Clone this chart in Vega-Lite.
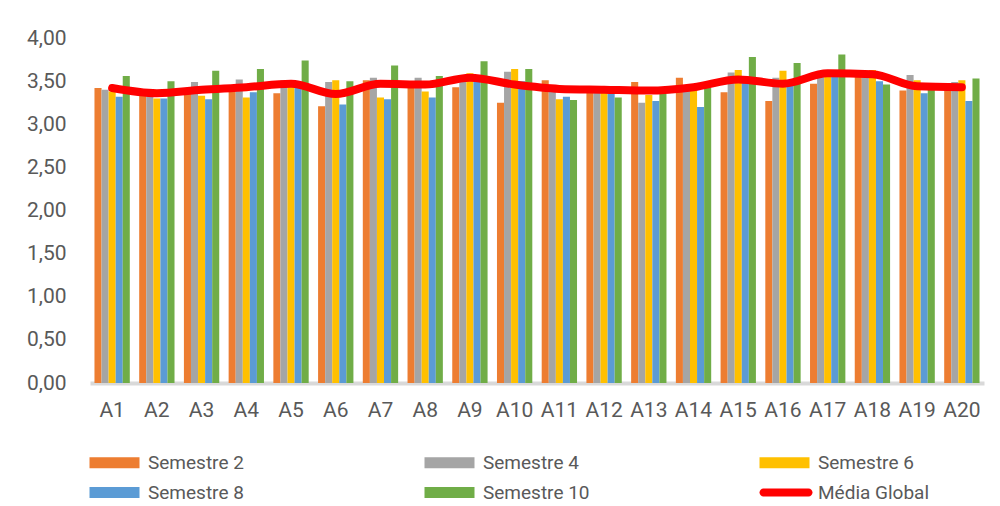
{
  "$schema": "https://vega.github.io/schema/vega-lite/v6.json",
  "width": 894,
  "height": 345,
  "autosize": {"type": "none"},
  "padding": {"left": 90, "top": 38, "right": 16, "bottom": 123},
  "background": "white",
  "config": {
    "locale": {"number": {"decimal": ",", "thousands": ".", "grouping": [3], "currency": ["", " €"]}},
    "view": {"stroke": null},
    "font": "Roboto"
  },
  "datasets": {
    "bars": [
      {"cat":"A1","serie":"Semestre 2","value":3.42},{"cat":"A1","serie":"Semestre 4","value":3.40},{"cat":"A1","serie":"Semestre 6","value":3.38},{"cat":"A1","serie":"Semestre 8","value":3.32},{"cat":"A1","serie":"Semestre 10","value":3.56},
      {"cat":"A2","serie":"Semestre 2","value":3.35},{"cat":"A2","serie":"Semestre 4","value":3.33},{"cat":"A2","serie":"Semestre 6","value":3.30},{"cat":"A2","serie":"Semestre 8","value":3.30},{"cat":"A2","serie":"Semestre 10","value":3.50},
      {"cat":"A3","serie":"Semestre 2","value":3.40},{"cat":"A3","serie":"Semestre 4","value":3.49},{"cat":"A3","serie":"Semestre 6","value":3.33},{"cat":"A3","serie":"Semestre 8","value":3.29},{"cat":"A3","serie":"Semestre 10","value":3.62},
      {"cat":"A4","serie":"Semestre 2","value":3.40},{"cat":"A4","serie":"Semestre 4","value":3.52},{"cat":"A4","serie":"Semestre 6","value":3.31},{"cat":"A4","serie":"Semestre 8","value":3.37},{"cat":"A4","serie":"Semestre 10","value":3.64},
      {"cat":"A5","serie":"Semestre 2","value":3.36},{"cat":"A5","serie":"Semestre 4","value":3.51},{"cat":"A5","serie":"Semestre 6","value":3.45},{"cat":"A5","serie":"Semestre 8","value":3.44},{"cat":"A5","serie":"Semestre 10","value":3.74},
      {"cat":"A6","serie":"Semestre 2","value":3.21},{"cat":"A6","serie":"Semestre 4","value":3.49},{"cat":"A6","serie":"Semestre 6","value":3.51},{"cat":"A6","serie":"Semestre 8","value":3.23},{"cat":"A6","serie":"Semestre 10","value":3.50},
      {"cat":"A7","serie":"Semestre 2","value":3.51},{"cat":"A7","serie":"Semestre 4","value":3.54},{"cat":"A7","serie":"Semestre 6","value":3.31},{"cat":"A7","serie":"Semestre 8","value":3.29},{"cat":"A7","serie":"Semestre 10","value":3.68},
      {"cat":"A8","serie":"Semestre 2","value":3.46},{"cat":"A8","serie":"Semestre 4","value":3.54},{"cat":"A8","serie":"Semestre 6","value":3.38},{"cat":"A8","serie":"Semestre 8","value":3.31},{"cat":"A8","serie":"Semestre 10","value":3.56},
      {"cat":"A9","serie":"Semestre 2","value":3.43},{"cat":"A9","serie":"Semestre 4","value":3.50},{"cat":"A9","serie":"Semestre 6","value":3.59},{"cat":"A9","serie":"Semestre 8","value":3.52},{"cat":"A9","serie":"Semestre 10","value":3.73},
      {"cat":"A10","serie":"Semestre 2","value":3.25},{"cat":"A10","serie":"Semestre 4","value":3.61},{"cat":"A10","serie":"Semestre 6","value":3.64},{"cat":"A10","serie":"Semestre 8","value":3.50},{"cat":"A10","serie":"Semestre 10","value":3.64},
      {"cat":"A11","serie":"Semestre 2","value":3.51},{"cat":"A11","serie":"Semestre 4","value":3.40},{"cat":"A11","serie":"Semestre 6","value":3.29},{"cat":"A11","serie":"Semestre 8","value":3.32},{"cat":"A11","serie":"Semestre 10","value":3.28},
      {"cat":"A12","serie":"Semestre 2","value":3.40},{"cat":"A12","serie":"Semestre 4","value":3.40},{"cat":"A12","serie":"Semestre 6","value":3.38},{"cat":"A12","serie":"Semestre 8","value":3.36},{"cat":"A12","serie":"Semestre 10","value":3.31},
      {"cat":"A13","serie":"Semestre 2","value":3.49},{"cat":"A13","serie":"Semestre 4","value":3.25},{"cat":"A13","serie":"Semestre 6","value":3.34},{"cat":"A13","serie":"Semestre 8","value":3.27},{"cat":"A13","serie":"Semestre 10","value":3.35},
      {"cat":"A14","serie":"Semestre 2","value":3.54},{"cat":"A14","serie":"Semestre 4","value":3.45},{"cat":"A14","serie":"Semestre 6","value":3.42},{"cat":"A14","serie":"Semestre 8","value":3.20},{"cat":"A14","serie":"Semestre 10","value":3.42},
      {"cat":"A15","serie":"Semestre 2","value":3.37},{"cat":"A15","serie":"Semestre 4","value":3.60},{"cat":"A15","serie":"Semestre 6","value":3.63},{"cat":"A15","serie":"Semestre 8","value":3.55},{"cat":"A15","serie":"Semestre 10","value":3.78},
      {"cat":"A16","serie":"Semestre 2","value":3.27},{"cat":"A16","serie":"Semestre 4","value":3.54},{"cat":"A16","serie":"Semestre 6","value":3.62},{"cat":"A16","serie":"Semestre 8","value":3.48},{"cat":"A16","serie":"Semestre 10","value":3.71},
      {"cat":"A17","serie":"Semestre 2","value":3.47},{"cat":"A17","serie":"Semestre 4","value":3.55},{"cat":"A17","serie":"Semestre 6","value":3.55},{"cat":"A17","serie":"Semestre 8","value":3.56},{"cat":"A17","serie":"Semestre 10","value":3.81},
      {"cat":"A18","serie":"Semestre 2","value":3.55},{"cat":"A18","serie":"Semestre 4","value":3.55},{"cat":"A18","serie":"Semestre 6","value":3.63},{"cat":"A18","serie":"Semestre 8","value":3.50},{"cat":"A18","serie":"Semestre 10","value":3.46},
      {"cat":"A19","serie":"Semestre 2","value":3.39},{"cat":"A19","serie":"Semestre 4","value":3.57},{"cat":"A19","serie":"Semestre 6","value":3.51},{"cat":"A19","serie":"Semestre 8","value":3.36},{"cat":"A19","serie":"Semestre 10","value":3.40},
      {"cat":"A20","serie":"Semestre 2","value":3.44},{"cat":"A20","serie":"Semestre 4","value":3.49},{"cat":"A20","serie":"Semestre 6","value":3.51},{"cat":"A20","serie":"Semestre 8","value":3.27},{"cat":"A20","serie":"Semestre 10","value":3.53}
    ],
    "media": [
      {"cat":"A1","media":3.42},{"cat":"A2","media":3.36},{"cat":"A3","media":3.40},{"cat":"A4","media":3.43},{"cat":"A5","media":3.47},
      {"cat":"A6","media":3.35},{"cat":"A7","media":3.47},{"cat":"A8","media":3.46},{"cat":"A9","media":3.54},{"cat":"A10","media":3.46},
      {"cat":"A11","media":3.41},{"cat":"A12","media":3.40},{"cat":"A13","media":3.39},{"cat":"A14","media":3.43},{"cat":"A15","media":3.52},
      {"cat":"A16","media":3.47},{"cat":"A17","media":3.59},{"cat":"A18","media":3.58},{"cat":"A19","media":3.44},{"cat":"A20","media":3.43}
    ]
  },
  "encoding": {
    "x": {
      "field": "cat", "type": "nominal", "sort": null,
      "scale": {"paddingInner": 0.21, "paddingOuter": 0.1},
      "axis": {"title": null, "labelAngle": 0, "labelFontSize": 21, "labelColor": "#595959", "labelPadding": 16, "ticks": false, "domainColor": "#D9D9D9", "domainWidth": 4, "grid": false, "labelOverlap": false}
    }
  },
  "layer": [
    {
      "data": {"name": "bars"},
      "mark": {"type": "bar"},
      "encoding": {
        "xOffset": {"field": "serie", "sort": ["Semestre 2","Semestre 4","Semestre 6","Semestre 8","Semestre 10"], "scale": {"paddingInner": 0, "paddingOuter": 0}},
        "y": {
          "field": "value", "type": "quantitative",
          "scale": {"domain": [0, 4], "nice": false},
          "axis": {"title": null, "format": ".2f", "values": [0,0.5,1,1.5,2,2.5,3,3.5,4], "labelFontSize": 21, "labelColor": "#595959", "labelPadding": 24, "ticks": false, "domain": false, "grid": false, "labelOverlap": false}
        },
        "color": {
          "field": "serie", "type": "nominal",
          "scale": {
            "domain": ["Semestre 2","Semestre 4","Semestre 6","Semestre 8","Semestre 10","Média Global"],
            "range": ["#ED7D31","#A5A5A5","#FFC000","#5B9BD5","#70AD47","#FF0000"]
          },
          "legend": {
            "title": null, "orient": "none", "legendX": -5, "legendY": 415,
            "direction": "horizontal", "columns": 3, "columnPadding": 160, "rowPadding": 10, "gridAlign": "all",
            "symbolType": "M-1,-1.1H9V1.1H-1Z", "symbolSize": 100, "symbolOpacity": 1,
            "symbolStrokeWidth": 0, "labelFontSize": 19, "labelColor": "#595959", "labelOffset": 44, "labelLimit": 200,
            "encode": {
              "symbols": {
                "update": {
                  "shape": {"signal": "datum.value === 'Média Global' ? 'M-0.2,-0.8H8.8A0.8,0.8 0 0 1 8.8,0.8H-0.2A0.8,0.8 0 0 1 -0.2,-0.8Z' : 'M-1,-1.1H9V1.1H-1Z'"}
                }
              }
            }
          }
        }
      }
    },
    {
      "data": {"name": "media"},
      "mark": {"type": "line", "strokeWidth": 8, "strokeCap": "round", "strokeJoin": "round", "interpolate": "monotone"},
      "encoding": {
        "y": {"field": "media", "type": "quantitative"},
        "color": {"datum": "Média Global"}
      }
    }
  ]
}
